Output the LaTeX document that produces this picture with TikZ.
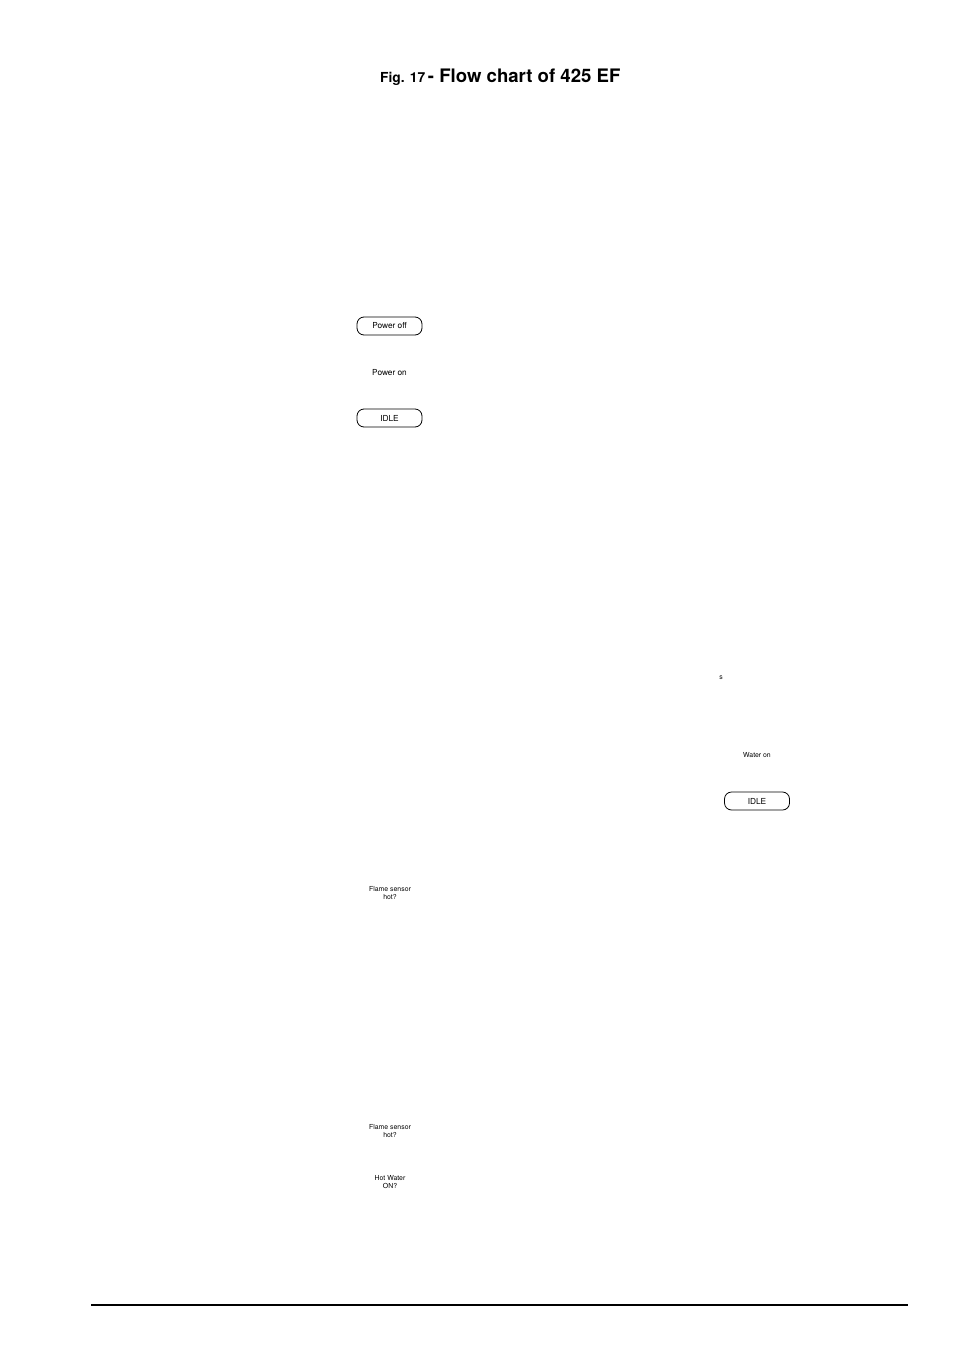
\documentclass[tikz,border=0pt]{standalone}
\usepackage{fontspec}
\setmainfont{TeX Gyre Heros}
\begin{document}
\begin{tikzpicture}[x=1pt,y=-1pt,
  term/.style={draw,rounded corners=7pt,minimum width=65pt,minimum height=18pt,inner sep=0pt,line width=0.8pt,font=\fontsize{8.3}{9}\selectfont},
  lbl/.style={inner sep=0pt,align=center,font=\fontsize{8.3}{9}\selectfont},
  tiny/.style={inner sep=0pt,align=center,font=\fontsize{6.9}{8}\selectfont}]
\useasboundingbox (0,0) rectangle (954,1351);
\node[inner sep=0pt,anchor=base west] (title) at (380,83) {\bfseries{\fontsize{13.8}{14}\selectfont Fig. 17} {\fontsize{18.6}{20}\selectfont - Flow chart of 425 EF}};
\node[term] (poff) at (389.5,326) {Power off};
\node[lbl] (pon) at (389.5,373) {Power on};
\node[term] (idle1) at (389.5,418) {IDLE};
\node[tiny] (s) at (721,678) {s};
\node[tiny] (won) at (757,755) {Water on};
\node[term] (idle2) at (757,801) {IDLE};
\node[tiny] (fs1) at (390,893) {Flame sensor\\hot?};
\node[tiny] (fs2) at (390,1131) {Flame sensor\\hot?};
\node[tiny] (hw) at (390,1182) {Hot Water\\ON?};
\coordinate (rl) at (91,1305);
\coordinate (rr) at (908,1305);
\draw[line width=1.3pt] (rl) -- (rr);
\end{tikzpicture}
\end{document}
